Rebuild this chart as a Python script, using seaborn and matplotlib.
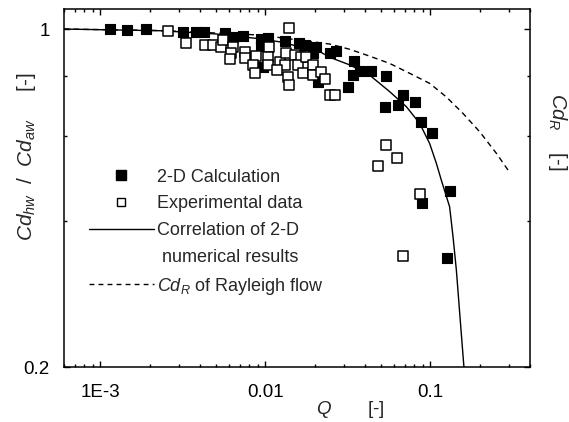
import numpy as np
import seaborn as sns
import matplotlib.pyplot as plt
from matplotlib.lines import Line2D
from matplotlib.ticker import FixedLocator, FixedFormatter, LogLocator, NullFormatter

# 2-D calculation (filled squares)
calc_q = [1.15e-3, 1.45e-3, 1.88e-3, 3.16e-3, 3.78e-3, 4.23e-3, 5.67e-3, 6.36e-3,
          7.31e-3, 9.46e-3, 0.0104, 9.46e-3, 9.67e-3, 0.0132, 0.0161, 0.0173,
          0.0204, 0.0194, 0.0208, 0.0245, 0.0270, 0.0343, 0.0340, 0.0377, 0.0440,
          0.0542, 0.0317, 0.0683, 0.0812, 0.0529, 0.0637, 0.0883, 0.103, 0.131,
          0.0891, 0.127]
calc_cd = [1.0, 0.994, 0.999, 0.987, 0.984, 0.987, 0.980, 0.964,
           0.967, 0.952, 0.959, 0.922, 0.836, 0.944, 0.937, 0.925,
           0.917, 0.891, 0.778, 0.893, 0.902, 0.860, 0.803, 0.820, 0.820,
           0.799, 0.758, 0.730, 0.707, 0.691, 0.696, 0.641, 0.610, 0.462,
           0.436, 0.336]

# experimental data (open squares)
exp_q = [2.58e-3, 3.29e-3, 4.28e-3, 4.81e-3, 5.41e-3, 5.53e-3, 6.36e-3, 6.22e-3,
         6.07e-3, 7.49e-3, 7.49e-3, 8.82e-3, 8.41e-3, 8.61e-3, 0.0106, 0.0104,
         0.0104, 0.0122, 0.0131, 0.0134, 0.0137, 0.0140, 0.0140, 0.0151, 0.0165,
         0.0158, 0.0177, 0.0169, 0.0194, 0.0194, 0.0219, 0.0229, 0.0246, 0.0263,
         0.0536, 0.0628, 0.0480, 0.0862, 0.0687, 0.0117]
exp_cd = [0.990, 0.937, 0.927, 0.927, 0.919, 0.949, 0.919, 0.893,
          0.866, 0.898, 0.870, 0.880, 0.843, 0.812, 0.916, 0.877,
          0.843, 0.855, 0.843, 0.891, 0.797, 0.766, 1.003, 0.884, 0.877,
          0.843, 0.877, 0.810, 0.843, 0.803, 0.816, 0.787, 0.730, 0.732,
          0.576, 0.542, 0.521, 0.456, 0.339, 0.823]

# correlation of 2-D numerical results (solid line)
corr_q = [6e-4, 2.3e-3, 5e-3, 9.2e-3, 0.0122, 0.0214, 0.0246, 0.0325, 0.0429,
          0.0568, 0.0716, 0.0863, 0.0991, 0.1088, 0.1167, 0.131, 0.1374, 0.144,
          0.1537, 0.160]
corr_cd = [1.0, 0.992, 0.977, 0.955, 0.941, 0.898, 0.874, 0.843, 0.803,
           0.742, 0.691, 0.638, 0.580, 0.528, 0.487, 0.429, 0.372, 0.317,
           0.238, 0.2]

# Cd_R of Rayleigh flow (dashed line)
rayleigh_q = [6e-4, 2.3e-3, 9.2e-3, 0.0194, 0.0246, 0.0325, 0.0429, 0.0567,
              0.075, 0.0992, 0.125, 0.158, 0.1995, 0.252, 0.296]
rayleigh_cd = [1.0, 0.993, 0.972, 0.941, 0.931, 0.908, 0.879, 0.849,
               0.810, 0.772, 0.724, 0.669, 0.613, 0.553, 0.511]

x_ticks = [1e-3, 0.01, 0.1]
x_ticklabels = ['1E-3', '0.01', '0.1']
y_ticks = [0.2, 1]
y_ticklabels = ['0.2', '1']
y_minor = [0.4, 0.6, 0.8]

sns.set_style('ticks')
plt.rcParams['font.family'] = ['Liberation Sans', 'DejaVu Sans']
plt.rcParams['mathtext.fontset'] = 'custom'
plt.rcParams['mathtext.rm'] = 'Liberation Sans'
plt.rcParams['mathtext.it'] = 'Liberation Sans:italic'

fig = plt.figure(figsize=(5.69, 4.22), dpi=100)
ax = fig.add_axes([0.1121, 0.1303, 0.8186, 0.8483])

# curves
sns.lineplot(x=corr_q, y=corr_cd, color='black', linewidth=1.0, sort=False, ax=ax)
sns.lineplot(x=rayleigh_q, y=rayleigh_cd, color='black', linewidth=1.0, sort=False, ax=ax)
ax.lines[-1].set_dashes((4, 3))

# points
sns.scatterplot(x=calc_q, y=calc_cd, marker='s', s=52, color='black',
                edgecolor='black', linewidth=0.8, zorder=3, ax=ax)
sns.scatterplot(x=exp_q, y=exp_cd, marker='s', s=45, color='white',
                edgecolor='black', linewidth=1.1, zorder=4, ax=ax)

ax.set_xscale('log')
ax.set_yscale('log')
ax.set_xlim(6e-4, 0.4)
ax.set_ylim(0.2, 1.1)

ax.xaxis.set_major_locator(FixedLocator(x_ticks))
ax.xaxis.set_major_formatter(FixedFormatter(x_ticklabels))
ax.xaxis.set_minor_locator(LogLocator(base=10, subs=np.arange(2, 10)))
ax.xaxis.set_minor_formatter(NullFormatter())
ax.yaxis.set_major_locator(FixedLocator(y_ticks))
ax.yaxis.set_major_formatter(FixedFormatter(y_ticklabels))
ax.yaxis.set_minor_locator(FixedLocator(y_minor))
ax.yaxis.set_minor_formatter(NullFormatter())

ax.tick_params(which='both', direction='in', top=True, right=True,
               width=1.0, color='black', labelsize=13.5, labelcolor='black')
ax.tick_params(which='major', length=4.5)
ax.tick_params(which='minor', length=2.5)
ax.tick_params(axis='x', pad=12)
ax.tick_params(axis='y', pad=10)
for sp in ax.spines.values():
    sp.set_linewidth(1.1)
    sp.set_color('black')
ax.grid(False)

# axis labels
ax.set_xlabel('$Q$       [-]', fontsize=13.5, va='top')
ax.xaxis.set_label_coords(0.614, -0.09)
ax.set_ylabel('$Cd_{hw}$  /  $Cd_{aw}$     [-]', fontsize=15, va='bottom')
ax.yaxis.set_label_coords(-0.055, 0.589)
fig.text(557 / 569, 1 - 132 / 422, '$Cd_R$    [-]', fontsize=14.5, rotation=270,
         ha='center', va='center')

# legend
handles = [
    Line2D([], [], marker='s', color='black', linestyle='none', markersize=7),
    Line2D([], [], marker='s', markerfacecolor='white', markeredgecolor='black',
           linestyle='none', markersize=6, markeredgewidth=1.0),
    Line2D([], [], color='black', linewidth=1.0),
    Line2D([], [], linestyle='none'),
    Line2D([], [], color='black', linewidth=1.0, dashes=(3.5, 3)),
]
labels = ['2-D Calculation', 'Experimental data', 'Correlation of 2-D',
          ' numerical results', '$Cd_R$ of Rayleigh flow']
ax.legend(handles=handles, labels=labels, loc='upper left',
          bbox_to_anchor=(0.054, 0.554), frameon=False, fontsize=13,
          borderpad=0, borderaxespad=0, handlelength=3.6, handletextpad=0.15,
          labelspacing=0.54)

fig.savefig('out.png', dpi=100)
